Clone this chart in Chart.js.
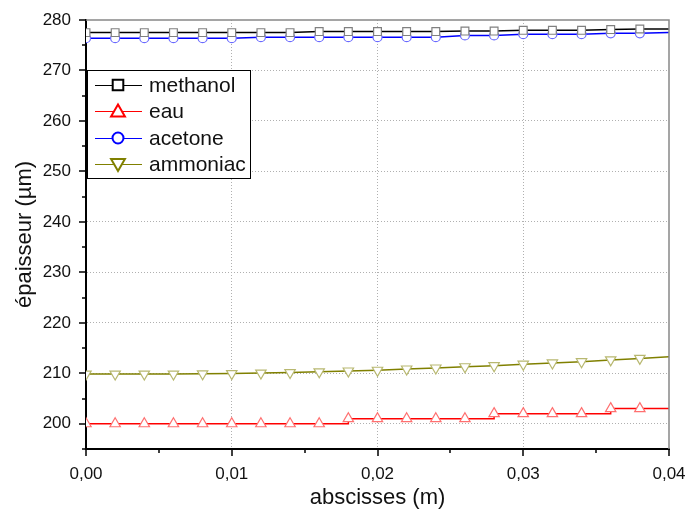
<!DOCTYPE html>
<html lang="fr">

<head>
    <meta charset="UTF-8">
    <script src="https://cdn.jsdelivr.net/npm/chart.js"></script>
    <title>epaisseur</title>
    <style>
        html, body { margin: 0; padding: 0; background: #fff; }
        #wrap { width: 686px; height: 514px; }
    </style>
</head>

<body>
    <div id="wrap"><canvas id="chart" width="686" height="514"></canvas></div>

    <script>
        // abscisses (m)
        const xs = [0, 0.002, 0.004, 0.006, 0.008, 0.010, 0.012, 0.014, 0.016, 0.018, 0.020,
            0.022, 0.024, 0.026, 0.028, 0.030, 0.032, 0.034, 0.036, 0.038, 0.040];

        // epaisseur (µm) par fluide
        const methanol = [277.5, 277.5, 277.5, 277.5, 277.5, 277.5, 277.5, 277.5, 277.7, 277.7, 277.7,
            277.7, 277.7, 277.8, 277.8, 277.95, 277.95, 277.95, 278.1, 278.2, 278.2];
        const eau = [200, 200, 200, 200, 200, 200, 200, 200, 200, 201, 201,
            201, 201, 201, 202, 202, 202, 202, 203, 203, 203];
        const acetone = [276.4, 276.4, 276.4, 276.4, 276.4, 276.4, 276.6, 276.6, 276.6, 276.6, 276.6,
            276.6, 276.6, 276.95, 276.95, 277.2, 277.2, 277.2, 277.35, 277.35, 277.5];
        const ammoniac = [209.85, 209.85, 209.85, 209.85, 209.9, 209.95, 210.05, 210.15, 210.3, 210.45, 210.6,
            210.85, 211.05, 211.3, 211.5, 211.8, 212.05, 212.3, 212.65, 212.95, 213.3];

        const xTicks = [0, 0.01, 0.02, 0.03, 0.04];
        const yTicks = [200, 210, 220, 230, 240, 250, 260, 270, 280];

        const FONT = '"Liberation Sans", Arial, sans-serif';

        function pts(ys) {
            return xs.map((x, i) => ({ x: x, y: ys[i] }));
        }
        // pas de marqueur sur le dernier point
        function rad(r) {
            return c => (c.dataIndex === xs.length - 1 ? 0 : r);
        }

        const series = [
            { label: 'methanol', data: methanol, color: '#000000', mark: '#808080', style: 'rect', r: 5.5, rot: 0, lr: 7.5 },
            { label: 'eau', data: eau, color: '#ff0000', mark: '#ff7070', style: 'triangle', r: 6, rot: 0, lr: 8, stepped: 'before' },
            { label: 'acetone', data: acetone, color: '#0000ff', mark: '#6a6aff', style: 'circle', r: 4.5, rot: 0, lr: 5.5 },
            { label: 'ammoniac', data: ammoniac, color: '#808000', mark: '#b8b870', style: 'triangle', r: 6, rot: 180, lr: 8 }
        ];

        // graduations, cadre et legende
        const axesPlugin = {
            id: 'axesPlugin',
            afterDraw(chart) {
                const ctx = chart.ctx;
                const a = chart.chartArea;
                const xs_ = chart.scales.x, ys_ = chart.scales.y;
                ctx.save();
                // cadre haut / droite
                ctx.strokeStyle = '#888';
                ctx.lineWidth = 1.5;
                ctx.beginPath();
                ctx.moveTo(a.left, a.top);
                ctx.lineTo(a.right, a.top);
                ctx.lineTo(a.right, a.bottom);
                ctx.stroke();

                ctx.strokeStyle = '#000';
                ctx.lineWidth = 1.5;
                ctx.beginPath();
                xTicks.forEach((v, i) => {
                    const px = Math.round(xs_.getPixelForValue(v));
                    ctx.moveTo(px, a.bottom); ctx.lineTo(px, a.bottom + 7);
                    if (i > 0) {
                        const m = Math.round(xs_.getPixelForValue((v + xTicks[i - 1]) / 2));
                        ctx.moveTo(m, a.bottom); ctx.lineTo(m, a.bottom + 4);
                    }
                });
                yTicks.forEach((v, i) => {
                    const py = Math.round(ys_.getPixelForValue(v));
                    ctx.moveTo(a.left, py); ctx.lineTo(a.left - 7, py);
                    const prev = i > 0 ? yTicks[i - 1] : v - (yTicks[1] - yTicks[0]);
                    const mv = (v + prev) / 2;
                    if (mv >= ys_.min) {
                        const m = Math.round(ys_.getPixelForValue(mv));
                        ctx.moveTo(a.left, m); ctx.lineTo(a.left - 4, m);
                    }
                });
                ctx.stroke();

                // legende
                const bx = 87, by = 70, bw = 163, bh = 108;
                ctx.fillStyle = '#fff';
                ctx.fillRect(bx, by, bw, bh);
                ctx.strokeStyle = '#000';
                ctx.lineWidth = 1;
                ctx.strokeRect(bx + 0.5, by + 0.5, bw, bh);
                ctx.font = '21px ' + FONT;
                ctx.textBaseline = 'middle';
                series.forEach((s, i) => {
                    const yy = Math.round(85 + i * 26.4);
                    ctx.strokeStyle = s.color;
                    ctx.lineWidth = 1;
                    ctx.beginPath();
                    ctx.moveTo(95, yy + 0.5); ctx.lineTo(142, yy + 0.5);
                    ctx.stroke();
                    ctx.fillStyle = '#fff';
                    ctx.strokeStyle = s.color;
                    ctx.lineWidth = 2;
                    Chart.helpers.drawPoint(ctx, { pointStyle: s.style, radius: s.lr, rotation: s.rot, borderWidth: 2 }, 118, yy + (s.style === 'triangle' ? (s.rot ? -1 : 1.5) : 0));
                    ctx.fillStyle = '#111';
                    ctx.fillText(s.label, 149, yy + 1);
                });
                ctx.restore();
            }
        };

        function gridColor(edges) {
            return c => (c.tick && edges.includes(c.tick.value) ? 'rgba(0,0,0,0)' : '#b0b0b0');
        }

        new Chart(document.getElementById('chart').getContext('2d'), {
            type: 'line',
            data: {
                datasets: series.map(s => ({
                    label: s.label,
                    data: pts(s.data),
                    borderColor: s.color,
                    borderWidth: 1.5,
                    stepped: s.stepped || false,
                    tension: 0,
                    pointStyle: s.style,
                    pointRotation: s.rot,
                    pointRadius: rad(s.r),
                    pointBorderColor: s.mark,
                    pointBackgroundColor: '#ffffff',
                    pointBorderWidth: 1.2
                }))
            },
            options: {
                responsive: false,
                animation: false,
                events: [],
                layout: { padding: { left: 0, right: 0, top: 20, bottom: 0 } },
                plugins: {
                    legend: { display: false },
                    tooltip: { enabled: false }
                },
                scales: {
                    x: {
                        type: 'linear',
                        min: 0,
                        max: 0.04,
                        afterBuildTicks: sc => { sc.ticks = xTicks.map(v => ({ value: v })); },
                        afterFit: sc => { sc.height = 65; sc.paddingLeft = 0; sc.paddingRight = 17; },
                        grid: {
                            drawTicks: false,
                            color: gridColor([0, 0.04]),
                            lineWidth: 1
                        },
                        border: { display: true, color: '#000', width: 2, dash: [1, 2] },
                        ticks: {
                            padding: 15,
                            color: '#111',
                            font: { family: FONT, size: 17 },
                            maxRotation: 0,
                            callback: v => v.toFixed(2).replace('.', ',')
                        },
                        title: {
                            display: true,
                            text: 'abscisses (m)',
                            color: '#111',
                            font: { family: FONT, size: 22 },
                            padding: { top: 0, bottom: 3 }
                        }
                    },
                    y: {
                        min: 195,
                        max: 280,
                        afterBuildTicks: sc => { sc.ticks = yTicks.map(v => ({ value: v })); },
                        afterFit: sc => { sc.width = 86; sc.paddingTop = 0; sc.paddingBottom = 0; },
                        grid: {
                            drawTicks: false,
                            color: gridColor([280]),
                            lineWidth: 1
                        },
                        border: { display: true, color: '#000', width: 2, dash: [1, 2] },
                        ticks: {
                            padding: 15,
                            color: '#111',
                            font: { family: FONT, size: 17 }
                        },
                        title: {
                            display: true,
                            text: 'épaisseur (µm)',
                            color: '#111',
                            font: { family: FONT, size: 22 },
                            padding: { top: 12, bottom: 0 }
                        }
                    }
                }
            },
            plugins: [axesPlugin]
        });
    </script>
</body>

</html>
